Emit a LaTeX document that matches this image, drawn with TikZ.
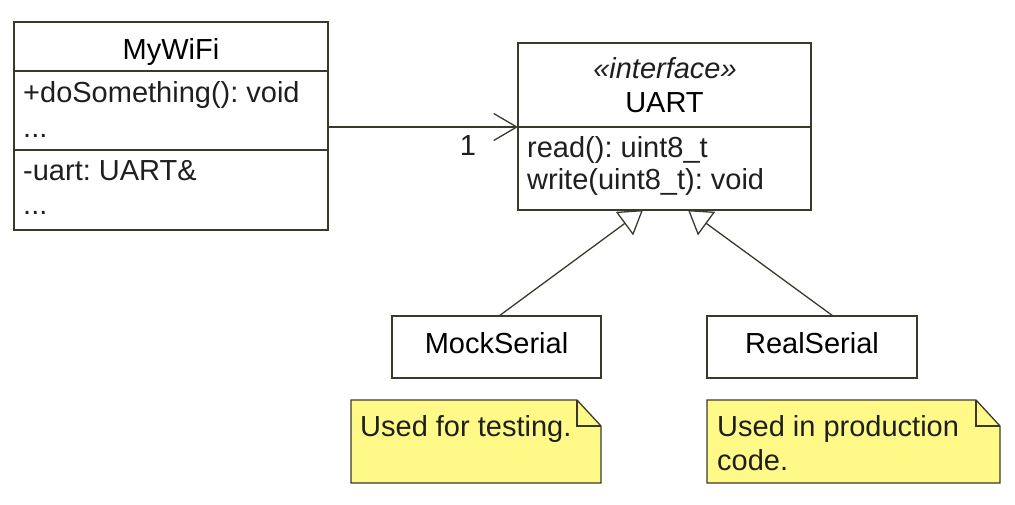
\documentclass[tikz,border=0pt]{standalone}
\usepackage{fontspec}
\setmainfont{Liberation Sans}
\usetikzlibrary{arrows.meta,positioning}
\definecolor{umlline}{RGB}{58,58,44}
\definecolor{noteyellow}{RGB}{255,250,135}
\frenchspacing
\tikzset{
  umlbox/.style={draw=umlline, line width=1.3pt, fill=white, inner sep=0pt, outer sep=0pt, anchor=north west},
  member/.style={anchor=base west, inner sep=0pt, text=black!88},
  assoc/.style={draw=umlline, line width=1.3pt, -{Straight Barb[length=23pt,width=27pt]}},
  realize/.style={draw=umlline, line width=1.3pt, -{Triangle[length=23pt,width=29pt,fill=white]}},
  umlnote/.style={draw=umlline, line width=1.3pt, fill=noteyellow, line join=miter}
}
\begin{document}
\begin{tikzpicture}[x=1pt,y=-1pt,font=\fontsize{29}{34}\selectfont]
        \useasboundingbox (0,0) rectangle (1015,505);
        % MyWiFi
        \node[umlbox, minimum width=314pt, minimum height=49pt, text height=38pt, text depth=11pt] (wifi) at (14,22) {MyWiFi};
        \node[umlbox, minimum width=314pt, minimum height=79pt, below=0pt of wifi] (wifiops) {};
        \node[umlbox, minimum width=314pt, minimum height=80pt, below=0pt of wifiops] (wifiattr) {};
        \node[member] (op1) at (23,103) {+doSomething(): void};
        \node[member] (op2) at (23,137.7) {...};
        \node[member] (at1) at (23,181) {-uart: UART\&};
        \node[member] (at2) at (23,215) {...};
        % UART
        \node[umlbox, minimum width=293pt, minimum height=84pt, text height=70pt, text depth=14pt] (uart) at (518,43) {UART};
        \node[umlbox, minimum width=293pt, minimum height=83pt, below=0pt of uart] (uartops) {};
        \node[anchor=base, inner sep=0pt, text=black!88] (stereo) at (665,78.3) {\textit{«interface»}};
        \node[member] (rd) at (527,157.3) {read(): uint8\_t};
        \node[member] (wr) at (527,190) {write(uint8\_t): void};
        % serial classes
        \node[umlbox, minimum width=209pt, minimum height=62pt, text height=37pt, text depth=25pt] (mock) at (392,316) {MockSerial};
        \node[umlbox, minimum width=210pt, minimum height=62pt, text height=37pt, text depth=25pt] (real) at (707,316) {RealSerial};
        % connectors
        \draw[assoc] (wifiops.east |- uart.south west) -- node[pos=0.737, below=8pt, inner sep=0pt, text=black!88] (mult) {1} (uart.south west);
        \draw[realize] ([xshift=2.5pt]mock.north) -- ([xshift=-21.5pt]uartops.south);
        \draw[realize] ([xshift=21pt]real.north) -- ([xshift=23.5pt]uartops.south);
        % notes
        \draw[umlnote] (351,400) -- (577,400) -- (601,426) -- (601,483) -- (351,483) -- cycle;
        \draw[umlline, line width=1.3pt] (577,400) |- (601,426);
        \node[member] (testnote) at (360,436.7) {Used for testing.};
        \draw[umlnote] (707,400) -- (976,400) -- (1000,426) -- (1000,483) -- (707,483) -- cycle;
        \draw[umlline, line width=1.3pt] (976,400) |- (1000,426);
        \node[member] (prodnote) at (717,436.7) {Used in production};
        \node[member] (prodnote2) at (717,470) {code.};
\end{tikzpicture}
\end{document}
